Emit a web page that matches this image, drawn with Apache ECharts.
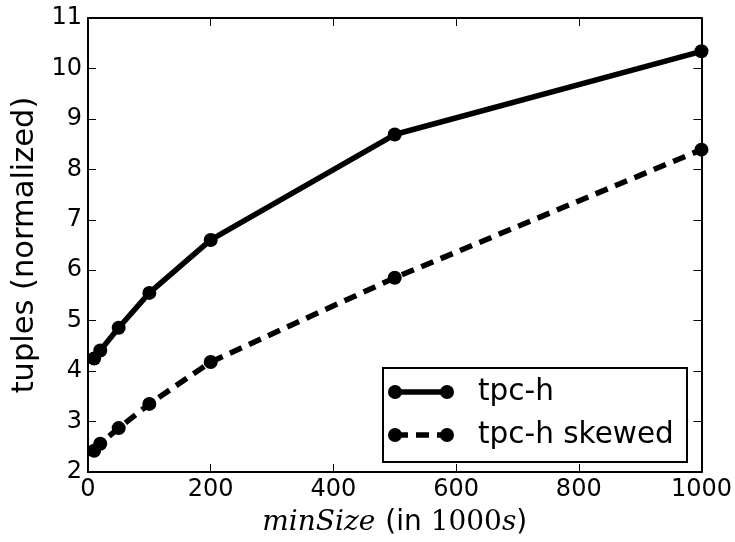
<!DOCTYPE html>
<html>
<head>
<meta charset="utf-8">
<script src="https://cdn.jsdelivr.net/npm/echarts@6/dist/echarts.min.js"></script>
<style>html,body{margin:0;padding:0;background:#fff}#c{width:735px;height:542px}</style>
</head>
<body>
<div id="c"></div>
<script>
const minSizes = [10, 20, 50, 100, 200, 500, 1000];
const tpch = [4.25, 4.41, 4.86, 5.55, 6.60, 8.69, 10.34];
const tpchSkewed = [2.42, 2.56, 2.87, 3.35, 4.18, 5.85, 8.39];
const seriesNames = ['tpc-h', 'tpc-h skewed'];
const yTitle = 'tuples (normalized)';

const chart = echarts.init(document.getElementById('c'), null, {renderer: 'canvas'});
const FONT = 'DejaVu Sans';
const axisCommon = {
  axisLine: {show: true, onZero: false, lineStyle: {color: '#000', width: 2}},
  axisTick: {show: true, inside: true, length: 8, lineStyle: {color: '#000', width: 1}},
  splitLine: {show: false}
};
function pairs(ys) { return minSizes.map((x, i) => [x, ys[i]]); }

const lx = 395, lx2 = 447, ly1 = 392, ly2 = 435;
chart.setOption({
  animation: false,
  backgroundColor: '#fff',
  grid: {left: 88, right: 33, top: 18, bottom: 63, containLabel: false},
  xAxis: [
    Object.assign({type: 'value', min: 0, max: 1000, interval: 200, position: 'bottom',
      axisLabel: {color: '#000', fontFamily: FONT, fontSize: 24, margin: 6, formatter: v => String(v)},
      name: '{i|minSize}{sp|}{n|(in }{r|1000}{i|s}{n|)}', nameLocation: 'middle', nameGap: 37,
      nameTextStyle: {rich: {
        i: {fontFamily: 'DejaVu Serif', fontStyle: 'italic', fontSize: 28, color: '#000'},
        r: {fontFamily: 'DejaVu Serif', fontSize: 28, color: '#000'},
        n: {fontFamily: FONT, fontSize: 28, color: '#000'},
        sp: {width: 10}
      }}
    }, axisCommon),
    Object.assign({type: 'value', min: 0, max: 1000, interval: 200, position: 'top',
      axisLabel: {show: false}}, axisCommon)
  ],
  yAxis: [
    Object.assign({type: 'value', min: 2, max: 11, interval: 1, position: 'left',
      axisLabel: {color: '#000', fontFamily: FONT, fontSize: 24, margin: 6},
      name: yTitle, nameLocation: 'middle', nameGap: 46, nameRotate: 90,
      nameTextStyle: {fontFamily: FONT, fontSize: 30.5, color: '#000'}
    }, axisCommon),
    Object.assign({type: 'value', min: 2, max: 11, interval: 1, position: 'right',
      axisLabel: {show: false}}, axisCommon)
  ],
  series: [
    {name: seriesNames[0], type: 'line', data: pairs(tpch), symbol: 'circle', symbolSize: 14,
      itemStyle: {color: '#000'}, lineStyle: {color: '#000', width: 5.5}, clip: false, z: 3},
    {name: seriesNames[1], type: 'line', data: pairs(tpchSkewed), symbol: 'circle', symbolSize: 14,
      itemStyle: {color: '#000'}, lineStyle: {color: '#000', width: 5.5, type: [13, 8], cap: 'butt'}, clip: false, z: 3}
  ],
  graphic: [
    {type: 'rect', shape: {x: 383, y: 368, width: 304, height: 94}, style: {fill: '#fff', stroke: '#000', lineWidth: 2}, z: 10},
    {type: 'line', shape: {x1: lx, y1: ly1, x2: lx2, y2: ly1}, style: {stroke: '#000', lineWidth: 5.5}, z: 11},
    {type: 'circle', shape: {cx: lx, cy: ly1, r: 7}, style: {fill: '#000'}, z: 12},
    {type: 'circle', shape: {cx: lx2, cy: ly1, r: 7}, style: {fill: '#000'}, z: 12},
    {type: 'line', shape: {x1: lx, y1: ly2, x2: lx2, y2: ly2}, style: {stroke: '#000', lineWidth: 5.5, lineDash: [13, 8]}, z: 11},
    {type: 'circle', shape: {cx: lx, cy: ly2, r: 7}, style: {fill: '#000'}, z: 12},
    {type: 'circle', shape: {cx: lx2, cy: ly2, r: 7}, style: {fill: '#000'}, z: 12},
    {type: 'text', x: 478, y: ly1, style: {text: seriesNames[0], font: '29.5px "DejaVu Sans"', fill: '#000', verticalAlign: 'middle'}, z: 12},
    {type: 'text', x: 478, y: ly2, style: {text: seriesNames[1], font: '29.5px "DejaVu Sans"', fill: '#000', verticalAlign: 'middle'}, z: 12}
  ]
});
</script>
</body>
</html>
